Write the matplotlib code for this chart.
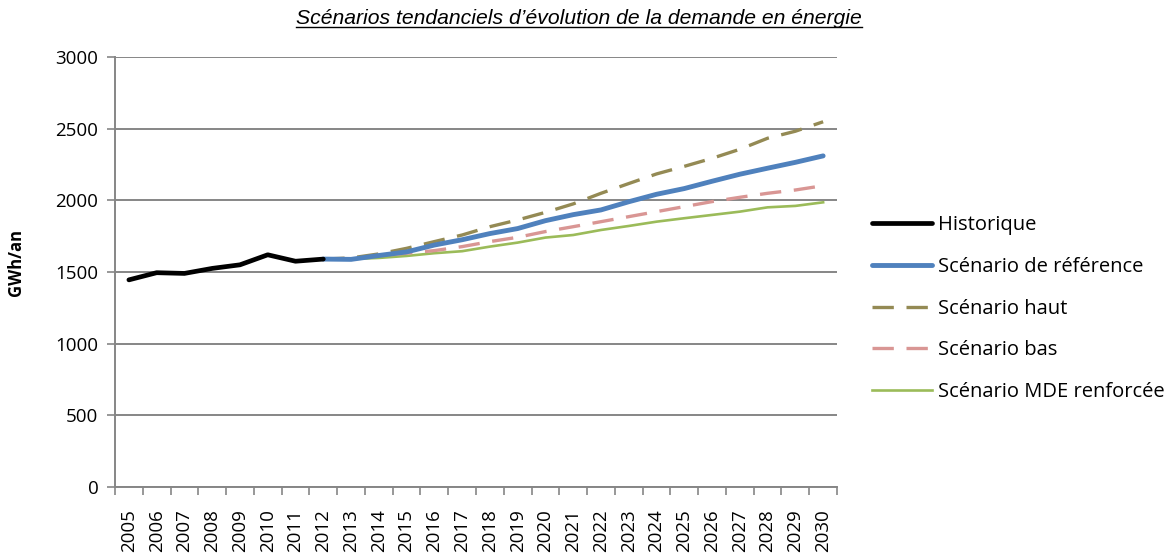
import matplotlib
matplotlib.use('Agg')
import matplotlib.pyplot as plt
from matplotlib.lines import Line2D

years = list(range(2005, 2031))
year_labels = [str(y) for y in years]

# historique 2005-2012
hist = [1445, 1495, 1490, 1525, 1550, 1620, 1575, 1590]
# scenarios 2012-2030
ref = [1590, 1588, 1615, 1640, 1688, 1725, 1768, 1803, 1858, 1900, 1933, 1990, 2042, 2082,
       2133, 2182, 2224, 2265, 2310]
haut = [1590, 1598, 1626, 1665, 1712, 1758, 1816, 1863, 1916, 1975, 2049, 2117, 2184, 2237,
        2293, 2356, 2433, 2482, 2548]
bas = [1590, 1595, 1612, 1631, 1649, 1677, 1712, 1742, 1782, 1816, 1851, 1886, 1921, 1956,
       1991, 2021, 2049, 2072, 2102]
mde = [1590, 1590, 1598, 1612, 1631, 1645, 1677, 1705, 1740, 1758, 1793, 1821, 1851, 1875,
       1898, 1921, 1951, 1961, 1986]

plt.rcParams['font.family'] = ['Open Sans', 'DejaVu Sans']
grey = '#868686'

fig = plt.figure(figsize=(11.7, 5.57), dpi=100)
ax = fig.add_axes([0.0983, 0.1257, 0.6171, 0.772])

xh = list(range(len(hist)))
xs = list(range(7, 7 + len(ref)))

ax.plot(xs, mde, color='#9BBB59', lw=1.9, label='Scénario MDE renforcée', zorder=3)
ax.plot(xs, bas, color='#D99694', lw=2.4, ls=(0, (6.4, 3.8)), label='Scénario bas', zorder=4)
ax.plot(xs, haut, color='#948A54', lw=2.4, ls=(0, (6.4, 3.8)), label='Scénario haut', zorder=5)
ax.plot(xs, ref, color='#4F81BD', lw=3.5, label='Scénario de référence', zorder=6, solid_capstyle='round')
ax.plot(xh, hist, color='black', lw=3.4, label='Historique', zorder=7, solid_capstyle='round')

ax.set_xlim(-0.5, len(years) - 0.5)
ax.set_ylim(0, 3000)
ax.set_yticks(range(0, 3001, 500))
ax.yaxis.grid(True, color=grey, lw=1.4)
ax.set_axisbelow(True)

ax.set_xticks(range(len(years)))
ax.set_xticklabels(year_labels, rotation=90, fontsize=13.5)
ax.set_xticks([i - 0.5 for i in range(len(years) + 1)], minor=True)
ax.tick_params(axis='x', which='major', length=0, pad=16)
ax.tick_params(axis='x', which='minor', length=6, color=grey, width=1.2)
ax.tick_params(axis='y', length=6, color=grey, width=1.2, labelsize=13.5, pad=6)

for s in ['top', 'right']:
    ax.spines[s].set_visible(False)
for s in ['left', 'bottom']:
    ax.spines[s].set_color(grey)
    ax.spines[s].set_linewidth(1.4)

ax.set_ylabel('GWh/an', fontsize=12, fontweight='bold')
ax.yaxis.set_label_coords(-0.124, 0.523)

h, l = ax.get_legend_handles_labels()
order = [4, 3, 2, 1, 0]
fig.legend([h[i] for i in order], [l[i] for i in order], loc='center left',
           bbox_to_anchor=(0.730, 0.446), frameon=False, fontsize=14.5,
           handlelength=2.95, handletextpad=0.3, labelspacing=1.08)

title = fig.text(0.495, 0.966, 'Scénarios tendanciels d\u2019évolution de la demande en énergie',
                 ha='center', va='center', fontsize=15.2, style='italic',
                 family=['Liberation Sans', 'DejaVu Sans'])
fig.canvas.draw()
bb = title.get_window_extent().transformed(fig.transFigure.inverted())
fig.add_artist(Line2D([bb.x0, bb.x1], [bb.y0 + 0.002, bb.y0 + 0.002], color='black', lw=1.0,
                      transform=fig.transFigure))

fig.savefig('out.png', dpi=100)
